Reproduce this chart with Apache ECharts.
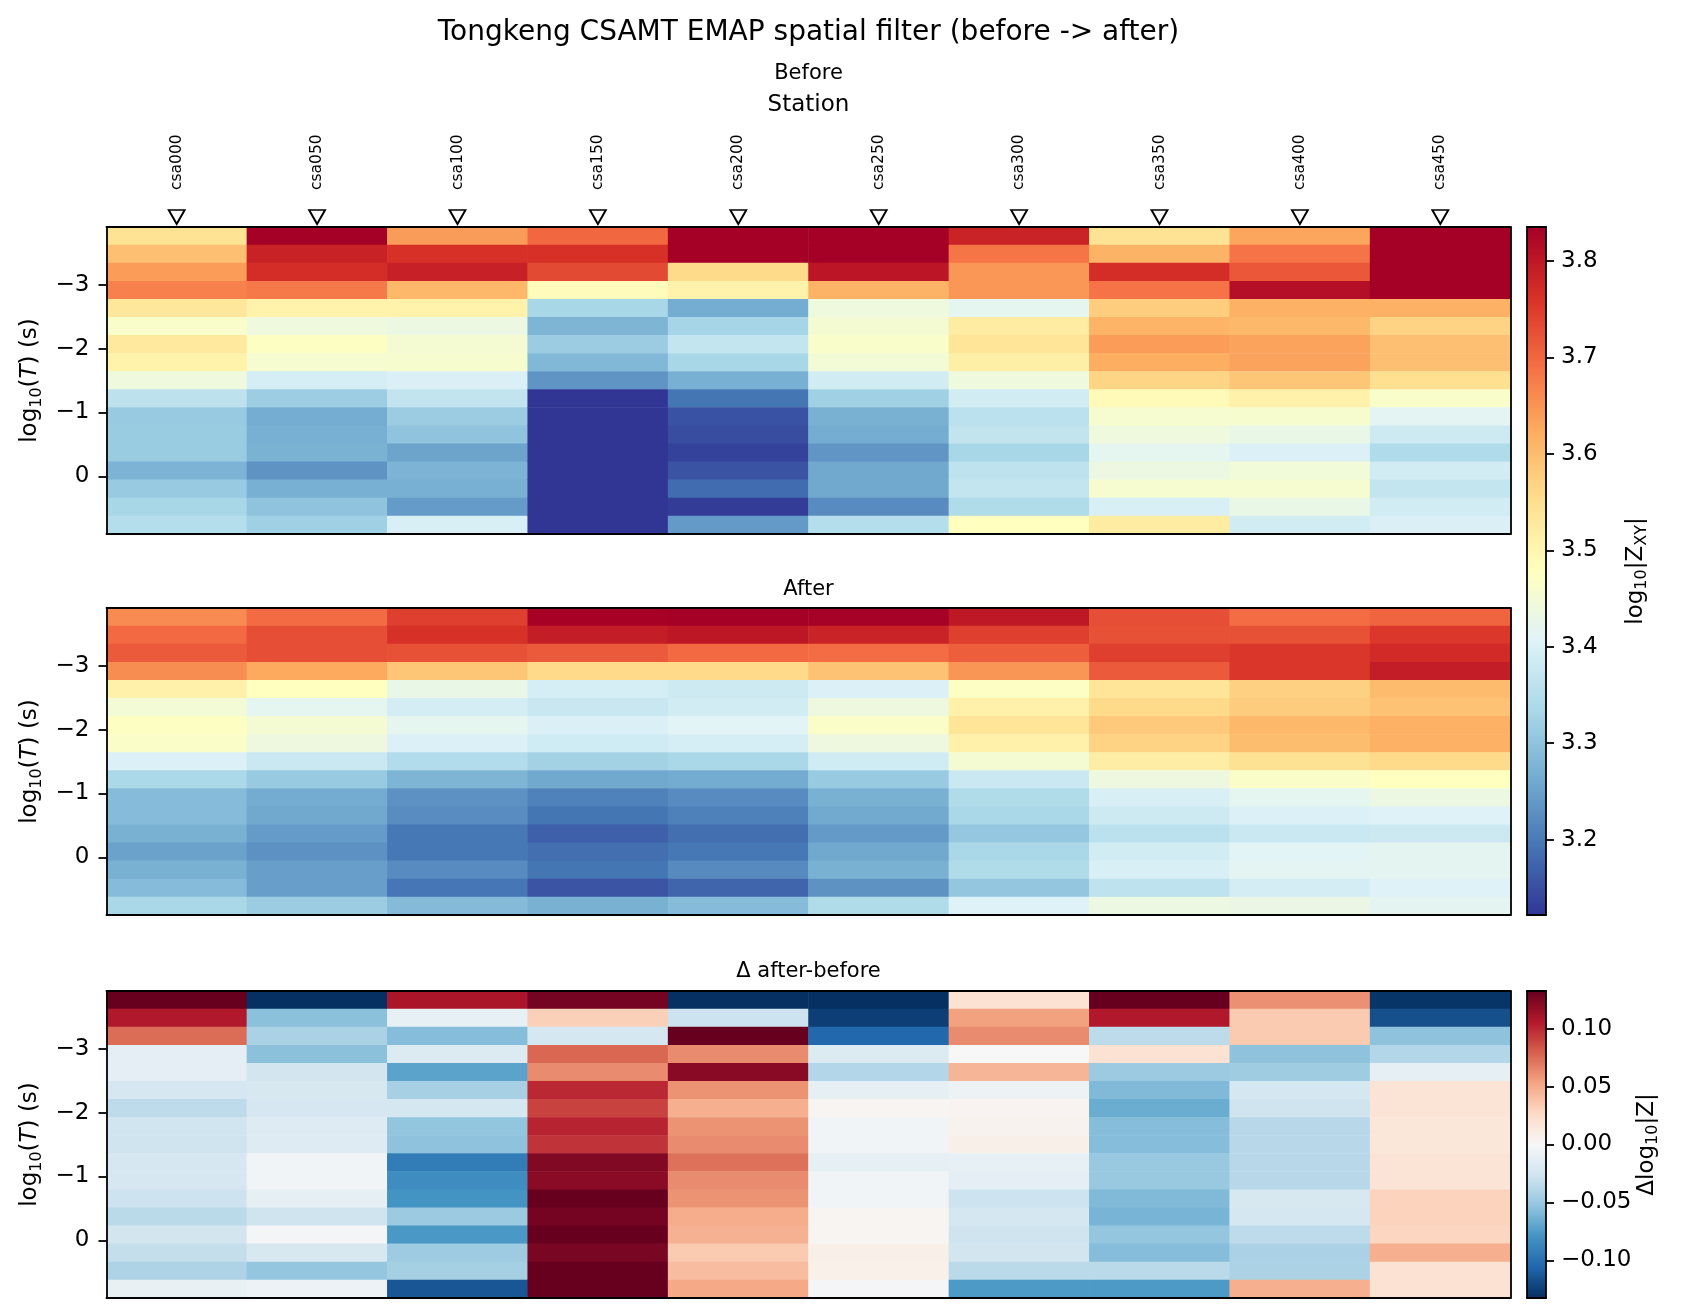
<!DOCTYPE html>
<html>
<head>
<meta charset="utf-8">
<script src="https://cdn.jsdelivr.net/npm/echarts@6/dist/echarts.min.js"></script>
<style>html,body{margin:0;padding:0;background:#fff}#chart{width:1682px;height:1316px}</style>
</head>
<body>
<div id="chart"></div>
<script>
// ---------------- data ----------------
const stations = ['csa000','csa050','csa100','csa150','csa200','csa250','csa300','csa350','csa400','csa450'];
const logTExtent = [-3.907, 0.905];          // period axis extent (top edge, bottom edge)
const logTTicks = [-3, -2, -1, 0];
const zRange = [3.122, 3.835];               // colour scale of log10|Z_XY|
const zTicks = [3.2, 3.3, 3.4, 3.5, 3.6, 3.7, 3.8];
const dRange = [-0.1325, 0.1325];            // colour scale of delta
const dTicks = [-0.10, -0.05, 0.00, 0.05, 0.10];

// one list per station, rows from shortest period (top) to longest (bottom)
const before = [
  [3.543,3.596,3.640,3.672,3.535,3.465,3.529,3.509,3.440,3.360,3.311,3.313,3.313,3.276,3.311,3.332,3.350],
  [3.835,3.785,3.768,3.678,3.509,3.440,3.475,3.457,3.392,3.316,3.264,3.269,3.273,3.231,3.269,3.301,3.321],
  [3.641,3.763,3.787,3.607,3.509,3.435,3.453,3.460,3.400,3.366,3.315,3.301,3.253,3.276,3.269,3.242,3.397],
  [3.699,3.763,3.733,3.485,3.332,3.277,3.315,3.282,3.233,3.122,3.122,3.122,3.122,3.122,3.122,3.122,3.122],
  [3.835,3.835,3.557,3.509,3.264,3.329,3.368,3.332,3.269,3.194,3.154,3.147,3.136,3.155,3.183,3.130,3.240],
  [3.835,3.835,3.804,3.614,3.440,3.453,3.465,3.450,3.389,3.321,3.271,3.264,3.234,3.258,3.258,3.222,3.350],
  [3.784,3.684,3.647,3.647,3.418,3.522,3.538,3.515,3.440,3.389,3.358,3.365,3.332,3.361,3.368,3.343,3.479],
  [3.543,3.614,3.768,3.686,3.577,3.612,3.640,3.621,3.567,3.489,3.457,3.440,3.418,3.435,3.457,3.396,3.522],
  [3.631,3.686,3.718,3.813,3.617,3.607,3.633,3.633,3.587,3.511,3.460,3.428,3.401,3.446,3.457,3.428,3.389],
  [3.835,3.835,3.835,3.835,3.617,3.568,3.597,3.597,3.550,3.465,3.414,3.382,3.342,3.389,3.368,3.389,3.400]
];
const after = [
  [3.659,3.696,3.714,3.657,3.511,3.450,3.475,3.468,3.401,3.336,3.288,3.288,3.271,3.250,3.271,3.288,3.334],
  [3.695,3.728,3.728,3.625,3.479,3.418,3.454,3.439,3.378,3.311,3.263,3.258,3.242,3.229,3.247,3.247,3.315],
  [3.746,3.763,3.725,3.589,3.428,3.391,3.418,3.401,3.345,3.277,3.229,3.223,3.197,3.197,3.222,3.195,3.286],
  [3.832,3.792,3.714,3.559,3.393,3.375,3.400,3.385,3.325,3.258,3.209,3.194,3.168,3.186,3.194,3.157,3.271],
  [3.835,3.801,3.696,3.559,3.382,3.389,3.411,3.393,3.334,3.263,3.222,3.207,3.186,3.197,3.220,3.175,3.288],
  [3.833,3.784,3.693,3.593,3.401,3.439,3.468,3.439,3.385,3.311,3.271,3.260,3.240,3.258,3.271,3.230,3.343],
  [3.800,3.746,3.710,3.649,3.472,3.511,3.538,3.511,3.453,3.378,3.343,3.334,3.308,3.334,3.343,3.306,3.404],
  [3.728,3.725,3.746,3.714,3.538,3.557,3.582,3.568,3.518,3.439,3.396,3.382,3.358,3.389,3.396,3.361,3.435],
  [3.693,3.725,3.756,3.756,3.571,3.578,3.607,3.600,3.546,3.468,3.418,3.401,3.378,3.411,3.413,3.391,3.432],
  [3.703,3.755,3.771,3.792,3.603,3.592,3.617,3.617,3.558,3.479,3.435,3.404,3.380,3.416,3.416,3.404,3.416]
];
const delta = [
  [0.1325,0.106,0.075,-0.013,-0.013,-0.023,-0.0345,-0.0265,-0.027,-0.023,-0.023,-0.028,-0.036,-0.025,-0.032,-0.041,-0.01],
  [-0.1325,-0.055,-0.043,-0.055,-0.025,-0.022,-0.023,-0.017,-0.017,-0.005,-0.005,-0.012,-0.027,-0.003,-0.022,-0.052,-0.008],
  [0.109,-0.011,-0.057,-0.019,-0.071,-0.044,-0.024,-0.053,-0.054,-0.093,-0.083,-0.0795,-0.049,-0.077,-0.048,-0.045,-0.114],
  [0.128,0.032,-0.024,0.077,0.063,0.1,0.09,0.102,0.096,0.123,0.12,0.1325,0.128,0.1325,0.126,0.1325,0.1325],
  [-0.1325,-0.028,0.1325,0.063,0.121,0.06,0.048,0.06,0.063,0.073,0.063,0.06,0.049,0.047,0.035,0.041,0.051],
  [-0.1325,-0.125,-0.105,-0.019,-0.039,-0.012,0.003,-0.005,-0.005,-0.012,-0.005,-0.005,0.003,0.003,0.008,0.007,-0.003],
  [0.02,0.054,0.063,0.0,0.045,-0.007,0.004,0.005,0.008,-0.011,-0.013,-0.028,-0.024,-0.027,-0.025,-0.036,-0.076],
  [0.1325,0.106,-0.035,0.02,-0.049,-0.059,-0.066,-0.057,-0.057,-0.05,-0.05,-0.059,-0.062,-0.052,-0.057,-0.036,-0.076],
  [0.061,0.035,0.035,-0.054,-0.047,-0.024,-0.027,-0.037,-0.037,-0.037,-0.037,-0.022,-0.024,-0.035,-0.043,-0.042,0.048],
  [-0.13,-0.117,-0.054,-0.039,-0.012,0.019,0.019,0.016,0.016,0.019,0.019,0.03,0.03,0.029,0.048,0.02,0.02]
];

// ---------------- styling ----------------
const FONT = 'DejaVu Sans';
const RdYlBu_r = ['#313695','#4575b4','#74add1','#abd9e9','#e0f3f8','#ffffbf','#fee090','#fdae61','#f46d43','#d73027','#a50026'];
const RdBu_r = ['#053061','#2166ac','#4393c3','#92c5de','#d1e5f0','#f7f7f7','#fddbc7','#f4a582','#d6604d','#b2182b','#67001f'];
const LINE = {color: '#000', width: 1.8};
const PL = 106.5, PW = 1404, PH = 307;
const TOPS = [227, 608, 991];
const CBL = 1527, CBW = 19;

const rowIdx = before[0].map((_, i) => i);
const cells = m => { const o = []; m.forEach((col, i) => col.forEach((v, j) => o.push([i, j, v]))); return o; };
const minus = s => s.replace('-', '\u2212');

const subRich = {
  sub: {fontSize: 16, fontFamily: FONT, color: '#000', padding: [12, 0, 0, 0]},
  it: {fontSize: 23, fontFamily: FONT, color: '#000', fontStyle: 'italic'}
};
const plainLine = {show: true, onZero: false, lineStyle: LINE};

const xAxes = [], yAxes = [];
function panelAxes(gi, top) {
  xAxes.push({
    gridIndex: gi, type: 'category', data: stations, position: top ? 'top' : 'bottom', z: 10,
    axisLine: plainLine, axisTick: {show: false}, splitLine: {show: false},
    // on a top axis ECharts flips the sign of the rotation, so -90 gives text reading bottom-to-top
    axisLabel: top ? {show: true, rotate: -90, interval: 0, margin: 37, fontSize: 15.5, fontFamily: FONT, color: '#000'} : {show: false},
    name: top ? 'Station' : '', nameLocation: 'middle', nameGap: 110,
    nameTextStyle: {fontSize: 23, fontFamily: FONT, color: '#000'}
  });
  xAxes.push({
    gridIndex: gi, type: 'category', data: stations, position: top ? 'bottom' : 'top', z: 10,
    axisLine: plainLine, axisTick: {show: false}, axisLabel: {show: false}, splitLine: {show: false}
  });
  yAxes.push({
    gridIndex: gi, type: 'category', data: rowIdx, inverse: true, position: 'right', z: 10,
    axisLine: plainLine, axisTick: {show: false}, axisLabel: {show: false}, splitLine: {show: false}
  });
  yAxes.push({
    gridIndex: gi, type: 'value', min: logTExtent[0], max: logTExtent[1], inverse: true, position: 'left', z: 10,
    axisLine: plainLine,
    axisTick: {show: true, length: 8, lineStyle: LINE, customValues: logTTicks},
    axisLabel: {show: true, customValues: logTTicks, margin: 17, fontSize: 23, fontFamily: FONT, color: '#000',
                formatter: v => minus(String(v))},
    splitLine: {show: false},
    name: 'log{sub|10}({it|T}) (s)', nameLocation: 'middle', nameRotate: 90, nameGap: 62,
    nameTextStyle: {fontSize: 23, fontFamily: FONT, color: '#000', rich: subRich}
  });
}
function cbarAxes(gi, range, ticks, fmt, name) {
  xAxes.push({gridIndex: gi, type: 'value', min: 0, max: 1, position: 'bottom', z: 10,
    axisLine: plainLine, axisTick: {show: false}, axisLabel: {show: false}, splitLine: {show: false}});
  xAxes.push({gridIndex: gi, type: 'value', min: 0, max: 1, position: 'top', z: 10,
    axisLine: plainLine, axisTick: {show: false}, axisLabel: {show: false}, splitLine: {show: false}});
  yAxes.push({gridIndex: gi, type: 'value', min: range[0], max: range[1], position: 'right', z: 10,
    axisLine: plainLine,
    axisTick: {show: true, length: 8, lineStyle: LINE, customValues: ticks},
    axisLabel: {show: true, customValues: ticks, margin: 15, fontSize: 23, fontFamily: FONT, color: '#000', formatter: fmt},
    splitLine: {show: false},
    name: name, nameLocation: 'middle', nameRotate: 90, nameGap: 76,
    nameTextStyle: {fontSize: 23, fontFamily: FONT, color: '#000', rich: subRich}});
  yAxes.push({gridIndex: gi, type: 'value', min: range[0], max: range[1], position: 'left', z: 10,
    axisLine: plainLine, axisTick: {show: false}, axisLabel: {show: false}, splitLine: {show: false}});
}
panelAxes(0, true);
panelAxes(1, false);
panelAxes(2, false);
cbarAxes(3, zRange, zTicks, v => v.toFixed(1), 'log{sub|10}|Z{sub|XY}|');
cbarAxes(4, dRange, dTicks, v => minus(v.toFixed(2)), 'Δlog{sub|10}|Z|');

function heat(gi, m) {
  return {type: 'heatmap', xAxisIndex: gi * 2, yAxisIndex: gi * 2, data: cells(m),
          itemStyle: {borderWidth: 0}, emphasis: {disabled: true}, progressive: 0, animation: false};
}
function titleText(y, text, size) {
  return {type: 'text', x: PL + PW / 2, y: y, z: 20,
          style: {text: text, fontSize: size, fontFamily: FONT, fill: '#000',
                  align: 'center', verticalAlign: 'middle', textAlign: 'center', textVerticalAlign: 'middle'}};
}

const option = {
  animation: false,
  backgroundColor: '#fff',
  grid: [
    {left: PL, top: TOPS[0], width: PW, height: PH},
    {left: PL, top: TOPS[1], width: PW, height: PH},
    {left: PL, top: TOPS[2], width: PW, height: PH},
    {left: CBL, top: TOPS[0], width: CBW, height: TOPS[1] + PH - TOPS[0]},
    {left: CBL, top: TOPS[2], width: CBW, height: PH}
  ],
  xAxis: xAxes,
  yAxis: yAxes,
  visualMap: [
    {type: 'continuous', seriesIndex: [0, 1], min: zRange[0], max: zRange[1], calculable: false, hoverLink: false,
     inRange: {color: RdYlBu_r}, left: CBL, top: TOPS[0], itemWidth: CBW, itemHeight: TOPS[1] + PH - TOPS[0],
     padding: 0, text: null, showLabel: false, orient: 'vertical'},
    {type: 'continuous', seriesIndex: [2], min: dRange[0], max: dRange[1], calculable: false, hoverLink: false,
     inRange: {color: RdBu_r}, left: CBL, top: TOPS[2], itemWidth: CBW, itemHeight: PH,
     padding: 0, text: null, showLabel: false, orient: 'vertical'}
  ],
  graphic: [
    titleText(33, 'Tongkeng CSAMT EMAP spatial filter (before -> after)', 28),
    titleText(74, 'Before', 21),
    titleText(590, 'After', 21),
    titleText(972, 'Δ after-before', 21)
  ],
  series: [
    heat(0, before),
    heat(1, after),
    heat(2, delta),
    {type: 'scatter', xAxisIndex: 0, yAxisIndex: 1, clip: false, z: 12,
     data: stations.map(s => [s, logTExtent[0]]),
     symbol: 'triangle', symbolRotate: 180, symbolSize: [16, 14], symbolOffset: [0, -10],
     itemStyle: {color: '#fff', borderColor: '#000', borderWidth: 1.8, opacity: 1},
     emphasis: {disabled: true}, silent: true}
  ]
};
const chart = echarts.init(document.getElementById('chart'), null, {renderer: 'canvas'});
chart.setOption(option);
</script>
</body>
</html>
